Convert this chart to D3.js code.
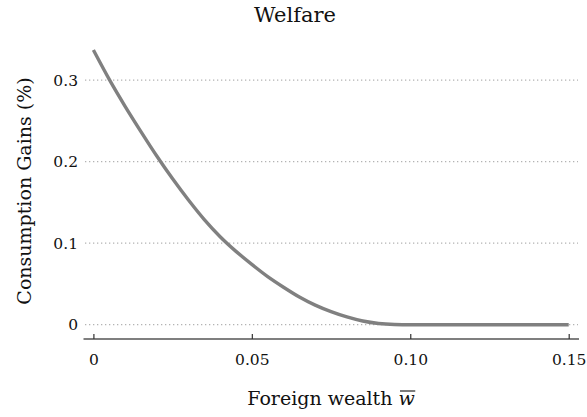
<!DOCTYPE html>
<html>
<head>
<meta charset="utf-8">
<script src="https://cdn.jsdelivr.net/npm/d3@7"></script>
<style>
  body { margin: 0; background: #fff; }
</style>
</head>
<body>
<svg id="chart" width="587" height="417"></svg>
<script>
// foreign wealth (x) and consumption gains in % (y)
var wealth = [0, 0.005, 0.01, 0.015, 0.02, 0.025, 0.03, 0.035, 0.04, 0.045,
              0.05, 0.055, 0.06, 0.065, 0.07, 0.075, 0.08, 0.085, 0.09, 0.095,
              0.10, 0.11, 0.12, 0.13, 0.14, 0.15];
var gains = [0.337, 0.301, 0.268, 0.237, 0.207, 0.179, 0.153, 0.129, 0.108, 0.090,
             0.074, 0.059, 0.046, 0.034, 0.024, 0.016, 0.0095, 0.0045, 0.0015, 0.0003,
             0, 0, 0, 0, 0, 0];
var xTicks = [0, 0.05, 0.10, 0.15];
var xTickLabels = ['0', '0.05', '0.10', '0.15'];
var yTicks = [0, 0.1, 0.2, 0.3];
var yTickLabels = ['0', '0.1', '0.2', '0.3'];

var serif = '"DejaVu Serif", "Liberation Serif", serif';

var svg = d3.select('#chart');

var x = d3.scaleLinear().domain([0, 0.15]).range([93.4, 568.7]);
var y = d3.scaleLinear().domain([0, 0.3]).range([324.7, 80.2]);

// dotted horizontal grid
svg.append('g').selectAll('line')
    .data(yTicks)
  .enter().append('line')
    .attr('x1', 85).attr('x2', 578)
    .attr('y1', function(d) { return y(d); })
    .attr('y2', function(d) { return y(d); })
    .attr('stroke', '#b3b3b3')
    .attr('stroke-width', 1.3)
    .attr('stroke-dasharray', '1.3,2.7');

// y tick labels
svg.append('g').selectAll('text')
    .data(yTicks)
  .enter().append('text')
    .attr('x', 78)
    .attr('y', function(d) { return y(d) + 5.5; })
    .attr('text-anchor', 'end')
    .style('font-family', serif)
    .style('font-size', '15.5px')
    .attr('fill', '#111')
    .text(function(d, i) { return yTickLabels[i]; });

// x axis: plain line with inward ticks
var xAxis = d3.axisBottom(x)
    .tickValues(xTicks)
    .tickSize(-5)
    .tickSizeOuter(0)
    .tickFormat(function(d, i) { return xTickLabels[i]; });

var gx = svg.append('g')
    .attr('transform', 'translate(0,339)')
    .call(xAxis);
gx.select('.domain').attr('d', 'M83.5,0H579').attr('stroke', '#555').attr('stroke-width', 1.4);
gx.selectAll('.tick line').attr('stroke', '#333').attr('stroke-width', 1.2);
gx.selectAll('.tick text')
    .attr('y', 15)
    .style('font-family', serif)
    .style('font-size', '15.5px')
    .attr('fill', '#111');

// the curve
var line = d3.line()
    .x(function(d, i) { return x(wealth[i]); })
    .y(function(d) { return y(d); })
    .curve(d3.curveMonotoneX);

svg.append('path')
    .datum(gains)
    .attr('d', line)
    .attr('fill', 'none')
    .attr('stroke', '#808080')
    .attr('stroke-width', 3.4);

// title and axis labels
svg.append('text')
    .attr('x', 295).attr('y', 22)
    .attr('text-anchor', 'middle')
    .style('font-family', serif)
    .style('font-size', '21px')
    .attr('fill', '#111')
    .text('Welfare');

var xl = svg.append('text')
    .attr('x', 331).attr('y', 405)
    .attr('text-anchor', 'middle')
    .style('font-family', serif)
    .style('font-size', '19px')
    .attr('fill', '#111');
xl.append('tspan').text('Foreign wealth ');
xl.append('tspan')
    .style('font-style', 'italic')
    .text('w');

// bar over the w, placed from the glyph's own box
var box = xl.node().getExtentOfChar(15);
svg.append('line')
    .attr('x1', box.x + 1.5).attr('x2', box.x + box.width + 0.5)
    .attr('y1', 391).attr('y2', 391)
    .attr('stroke', '#111')
    .attr('stroke-width', 1.1);

svg.append('text')
    .attr('transform', 'translate(31,191) rotate(-90)')
    .attr('text-anchor', 'middle')
    .style('font-family', serif)
    .style('font-size', '19px')
    .attr('fill', '#111')
    .text('Consumption Gains (%)');
</script>
</body>
</html>
